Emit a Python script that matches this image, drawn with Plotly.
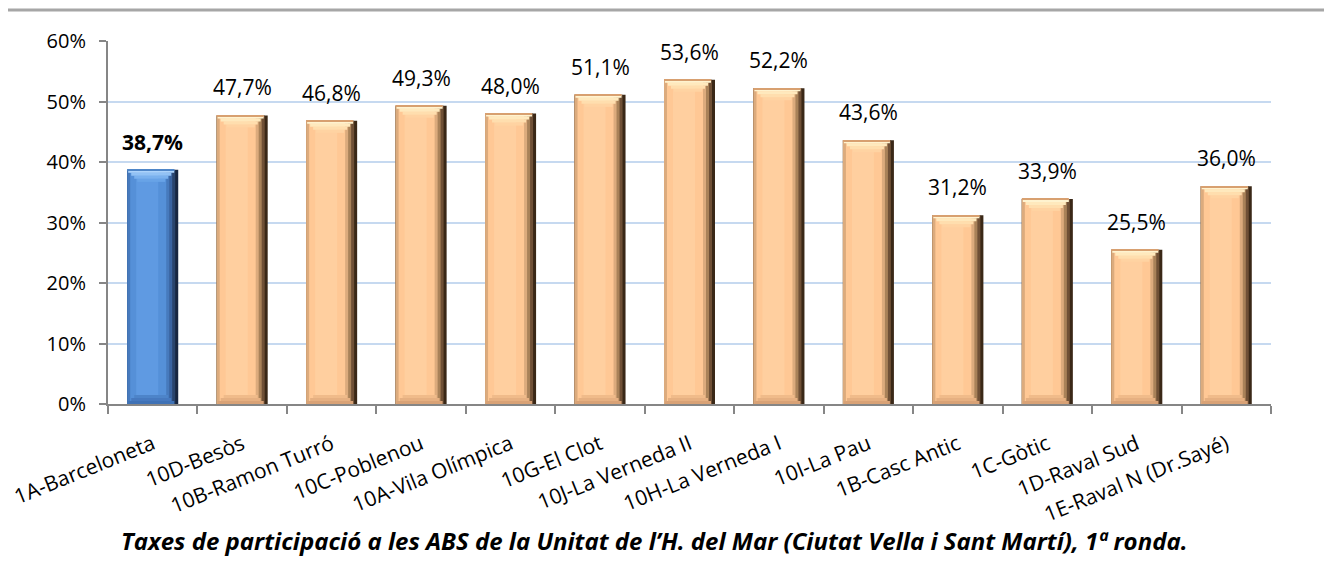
import plotly.graph_objects as go

categories = ["1A-Barceloneta", "10D-Besòs", "10B-Ramon Turró", "10C-Poblenou", "10A-Vila Olímpica",
              "10G-El Clot", "10J-La Verneda II", "10H-La Verneda I", "10I-La Pau", "1B-Casc Antic",
              "1C-Gòtic", "1D-Raval Sud", "1E-Raval N (Dr.Sayé)"]
values = [38.7, 47.7, 46.8, 49.3, 48.0, 51.1, 53.6, 52.2, 43.6, 31.2, 33.9, 25.5, 36.0]
highlight = [True] + [False] * 12
y_ticks = [0, 10, 20, 30, 40, 50, 60]
caption = "Taxes de participació a les ABS de la Unitat de l’H. del Mar (Ciutat Vella i Sant Martí), 1ª ronda."

FONT = "Open Sans"
PX = 1 / 89.46          # one pixel in category units
W = 51 * PX             # bar width
L = -W / 2              # left offset
UNIT = 60 / 363         # one pixel in data units

# shading palettes: (blue, orange)
pal = {
    "edge":   ("#182640", "#3a2817"),
    "dark2":  ("#2a446c", "#6f5036"),
    "dark1":  ("#3a63a0", "#a98259"),
    "side":   ("#477abd", "#dcab7d"),
    "main":   ("#5590d8", "#ffc895"),
    "hi":     ("#5f9ae2", "#ffcf9f"),
    "rim":    ("#4f86c8", "#d8a070"),
    "top1":   ("#acd3fb", "#fff3cf"),
    "top2":   ("#92c2f5", "#ffe9bd"),
    "top3":   ("#7ab1ee", "#ffdeae"),
    "top4":   ("#68a3e7", "#ffd3a2"),
    "bot1":   ("#3f72b6", "#d9a276"),
    "bot2":   ("#4679bf", "#e6b081"),
    "bot3":   ("#4d84c9", "#f0bb8a"),
}

def col(key):
    b, o = pal[key]
    return [b if h else o for h in highlight]

fig = go.Figure()

def layer(key, left_px, right_px, base=None, height=None):
    off = L + left_px * PX
    width = W - (left_px + right_px) * PX
    if base is None:
        y = values
        b = None
    else:
        y = [height(v) for v in values]
        b = [base(v) for v in values]
    fig.add_trace(go.Bar(
        x=categories, y=y, base=b, width=width, offset=off,
        marker=dict(color=col(key), line=dict(width=0)),
        hoverinfo="skip", showlegend=False,
    ))

# vertical cylinder shading
layer("edge", 0, 0)
layer("dark2", 0, 3)
layer("dark1", 0, 6)
layer("side", 0, 9)
layer("main", 3, 12)
layer("hi", 9, 20)

# bottom bevel (wider at bottom)
bh = 3 * UNIT
layer("bot1", 1, 4, base=lambda v: 0, height=lambda v: bh)
layer("bot2", 4, 7, base=lambda v: bh, height=lambda v: bh)
layer("bot3", 7, 10, base=lambda v: 2 * bh, height=lambda v: bh)

# top bevel (trapezoid, wide at top)
th = 3 * UNIT
layer("top4", 10, 13, base=lambda v: v - 4 * th, height=lambda v: th)
layer("top3", 7, 10, base=lambda v: v - 3 * th, height=lambda v: th)
layer("top2", 4, 7, base=lambda v: v - 2 * th, height=lambda v: th)
layer("top1", 1, 4, base=lambda v: v - th, height=lambda v: th)
layer("rim", 0, 4, base=lambda v: v - UNIT, height=lambda v: UNIT)

# data labels
for c, v, h in zip(categories, values, highlight):
    t = f"{v:.1f}%".replace(".", ",")
    if h:
        t = f"<b>{t}</b>"
    fig.add_annotation(x=c, y=v, text=t, showarrow=False, yanchor="bottom", yshift=12,
                       font=dict(family=FONT, size=21, color="#000000"))

fig.add_annotation(xref="paper", yref="paper", x=0.470, y=-0.377, text=f"<b><i>{caption}</i></b>",
                   showarrow=False, xanchor="center", yanchor="middle",
                   font=dict(family=FONT, size=24, color="#000000"))

fig.add_shape(type="line", xref="paper", yref="paper", x0=-100 / 1163, x1=1224 / 1163,
              y0=(396 - 2) / 363, y1=(396 - 2) / 363, line=dict(color="#a6a6a6", width=3))

fig.update_layout(
    width=1324, height=572, barmode="overlay",
    margin=dict(l=100, r=61, t=33, b=176, autoexpand=False),
    plot_bgcolor="white", paper_bgcolor="white",
    font=dict(family=FONT, size=20, color="#000000"),
    xaxis=dict(type="category", tickangle=-22, tickson="boundaries", ticks="outside", ticklen=8,
               tickcolor="#868686", tickwidth=2, showline=True, linecolor="#868686", linewidth=2,
               showgrid=False, ticklabelstandoff=18, automargin=False,
               tickfont=dict(family=FONT, size=21, color="#000000")),
    yaxis=dict(range=[0, 60], tickvals=y_ticks, ticktext=[f"{t}%" for t in y_ticks],
               ticks="outside", ticklen=7, tickcolor="#868686", tickwidth=2,
               showline=True, linecolor="#868686", linewidth=2, automargin=False,
               showgrid=True, gridcolor="#c6d9f0", gridwidth=2, zeroline=False,
               ticklabelstandoff=9,
               tickfont=dict(family=FONT, size=20, color="#000000")),
)

fig.write_html("out.html")
